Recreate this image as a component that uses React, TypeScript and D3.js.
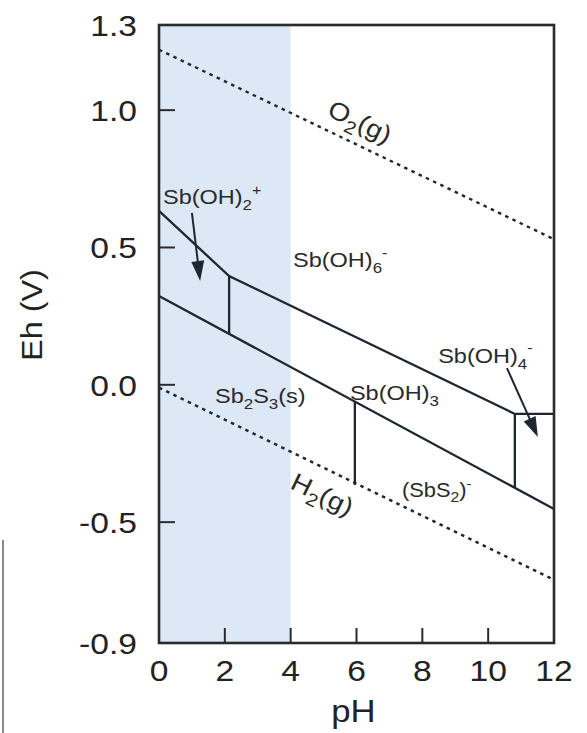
import React from 'react';
import * as d3 from 'd3';

const W = 587;
const H = 733;
const FONT = '"Liberation Sans", Arial, Helvetica, sans-serif';
const SX = 1.12;

// axes
const xDomain: [number, number] = [0, 12];
const yDomain: [number, number] = [-0.94, 1.31];
const xTickValues = [0, 2, 4, 6, 8, 10, 12];
const xTickLabels = ['0', '2', '4', '6', '8', '10', '12'];
const xInnerTicks = [2, 4, 6, 8, 10];
const yTickValues = [1.0, 0.5, 0.0, -0.5];
const yTickLabels = ['1.0', '0.5', '0.0', '-0.5'];
const yTopLabel = '1.3';
const yBottomLabel = '-0.9';
const shadedPH: [number, number] = [0, 4];

// water stability lines (pH, Eh)
const o2Line: [number, number][] = [[0, 1.22], [12, 0.53]];
const h2Line: [number, number][] = [[0, -0.01], [12, -0.71]];

// species boundaries (pH, Eh)
const upperBoundary: [number, number][] = [[0, 0.633], [2.13, 0.396], [10.81, -0.106], [12, -0.106]];
const lowerBoundary: [number, number][] = [[0, 0.323], [12, -0.452]];
const verticalPH = [2.13, 5.95, 10.81];
const verticalTop = [0.396, -0.061, -0.106];
const verticalBottom = [0.185, -0.365, -0.375];

// arrows
const arrowFrom: [number, number][] = [[1.0, 0.626], [10.57, 0.061]];
const arrowTo: [number, number][] = [[1.25, 0.378], [11.51, -0.19]];

type Part = { t: string; k: 'n' | 'sub' | 'sup' };
const labelParts: Part[][] = [
  [{ t: 'Sb(OH)', k: 'n' }, { t: '2', k: 'sub' }, { t: '+', k: 'sup' }],
  [{ t: 'Sb(OH)', k: 'n' }, { t: '6', k: 'sub' }, { t: '-', k: 'sup' }],
  [{ t: 'Sb', k: 'n' }, { t: '2', k: 'sub' }, { t: 'S', k: 'n' }, { t: '3', k: 'sub' }, { t: '(s)', k: 'n' }],
  [{ t: 'Sb(OH)', k: 'n' }, { t: '3', k: 'sub' }],
  [{ t: 'Sb(OH)', k: 'n' }, { t: '4', k: 'sub' }, { t: '-', k: 'sup' }],
  [{ t: '(SbS', k: 'n' }, { t: '2', k: 'sub' }, { t: ')', k: 'n' }, { t: '-', k: 'sup' }],
];
const labelPH = [0.12, 4.07, 1.70, 5.80, 8.48, 7.38];
const labelEh = [0.658, 0.429, -0.066, -0.055, 0.080, -0.408];
const labelSize = [21, 21, 21, 21, 21, 19.5];

const gasParts: Part[][] = [
  [{ t: 'O', k: 'n' }, { t: '2', k: 'sub' }, { t: '(g)', k: 'n' }],
  [{ t: 'H', k: 'n' }, { t: '2', k: 'sub' }, { t: '(g)', k: 'n' }],
];
const gasPH = [5.07, 3.95];
const gasEh = [0.982, -0.375];

const x = d3.scaleLinear().domain(xDomain).range([159, 554]);
const y = d3.scaleLinear().domain(yDomain).range([643, 25]);
const line = d3.line<[number, number]>().x(d => x(d[0])).y(d => y(d[1]));

const INK = '#1e2630';
const TXT = '#222';

function tf(px: number, py: number, rot?: number) {
  return `translate(${px},${py})${rot ? ` rotate(${rot})` : ''} scale(${SX},1)`;
}

function RichText({ parts, size, px, py, rotate }: { parts: Part[]; size: number; px: number; py: number; rotate?: number }) {
  let level = 0;
  const spans = parts.map((p, i) => {
    let target = 0;
    let fs = size;
    if (p.k === 'sub') { target = size * 0.28; fs = size * 0.72; }
    if (p.k === 'sup') { target = -size * 0.45; fs = size * 0.68; }
    const dy = target - level;
    level = target;
    return (
      <tspan key={i} dy={dy} fontSize={fs}>{p.t}</tspan>
    );
  });
  return (
    <text x={0} y={0} transform={tf(px, py, rotate)} fontFamily={FONT} fontSize={size} fill="#2a2a2a">
      {spans}
    </text>
  );
}

function Arrow({ from, to }: { from: [number, number]; to: [number, number] }) {
  const x1 = x(from[0]), y1 = y(from[1]);
  const x2 = x(to[0]), y2 = y(to[1]);
  const dx = x2 - x1, dy = y2 - y1;
  const len = Math.hypot(dx, dy);
  const ux = dx / len, uy = dy / len;
  const hl = 20, hw = 6.5;
  const bx = x2 - ux * hl, by = y2 - uy * hl;
  const pts = [
    [x2, y2],
    [bx - uy * hw, by + ux * hw],
    [bx + uy * hw, by - ux * hw],
  ].map(p => p.join(',')).join(' ');
  return (
    <g>
      <line x1={x1} y1={y1} x2={bx + ux * 2} y2={by + uy * 2} stroke={INK} strokeWidth={2} />
      <polygon points={pts} fill={INK} />
    </g>
  );
}

export default function App() {
  const [r0, r1] = x.range();
  const [b0, t0] = y.range();
  const angO2 = (Math.atan2(y(o2Line[1][1]) - y(o2Line[0][1]), x(o2Line[1][0]) - x(o2Line[0][0])) * 180) / Math.PI;
  const angH2 = (Math.atan2(y(h2Line[1][1]) - y(h2Line[0][1]), x(h2Line[1][0]) - x(h2Line[0][0])) * 180) / Math.PI;
  const gasAngles = [angO2, angH2];

  return (
    <svg width={W} height={H} style={{ position: 'absolute', left: 0, top: 0, background: '#fff' }}>
      <rect x={0} y={0} width={W} height={H} fill="#fff" />
      {/* stray panel edge at left */}
      <line x1={3} y1={540} x2={3} y2={H} stroke="#8a8a8a" strokeWidth={2} />

      {/* shaded acidic region */}
      <rect x={x(shadedPH[0])} y={t0} width={x(shadedPH[1]) - x(shadedPH[0])} height={b0 - t0} fill="#dce8f5" />

      {/* water lines */}
      <path d={line(o2Line) || ''} fill="none" stroke={INK} strokeWidth={2.4} strokeDasharray="3.5,4.5" />
      <path d={line(h2Line) || ''} fill="none" stroke={INK} strokeWidth={2.4} strokeDasharray="3.5,4.5" />

      {/* boundaries */}
      <path d={line(upperBoundary) || ''} fill="none" stroke={INK} strokeWidth={2.3} />
      <path d={line(lowerBoundary) || ''} fill="none" stroke={INK} strokeWidth={2.3} />
      {verticalPH.map((p, i) => (
        <line key={i} x1={x(p)} x2={x(p)} y1={y(verticalTop[i])} y2={y(verticalBottom[i])} stroke={INK} strokeWidth={2.3} />
      ))}

      {arrowFrom.map((f, i) => (
        <Arrow key={i} from={f} to={arrowTo[i]} />
      ))}

      {/* frame */}
      <rect x={r0} y={t0} width={r1 - r0} height={b0 - t0} fill="none" stroke="#2b2b2b" strokeWidth={2.6} />

      {/* ticks */}
      {yTickValues.map((v, i) => (
        <line key={'yt' + i} x1={r0} x2={r0 + 16} y1={y(v)} y2={y(v)} stroke="#2b2b2b" strokeWidth={2} />
      ))}
      {xInnerTicks.map((v, i) => (
        <line key={'xt' + i} x1={x(v)} x2={x(v)} y1={b0} y2={b0 - 15} stroke="#2b2b2b" strokeWidth={2} />
      ))}

      {/* tick labels */}
      {yTickValues.map((v, i) => (
        <text key={'yl' + i} transform={tf(137, y(v))} dy="0.36em" textAnchor="end" fontFamily={FONT} fontSize={30} fill={TXT}>{yTickLabels[i]}</text>
      ))}
      <text transform={tf(137, t0)} dy="0.36em" textAnchor="end" fontFamily={FONT} fontSize={30} fill={TXT}>{yTopLabel}</text>
      <text transform={tf(137, b0)} dy="0.36em" textAnchor="end" fontFamily={FONT} fontSize={30} fill={TXT}>{yBottomLabel}</text>
      {xTickValues.map((v, i) => (
        <text key={'xl' + i} transform={tf(x(v), 681)} textAnchor="middle" fontFamily={FONT} fontSize={30} fill={TXT}>{xTickLabels[i]}</text>
      ))}

      {/* axis titles */}
      <text transform={tf((r0 + r1) / 2 - 3, 722)} textAnchor="middle" fontFamily={FONT} fontSize={31} fill={TXT}>pH</text>
      <text transform={`translate(42,315) rotate(-90) scale(1.08,1)`} textAnchor="middle" fontFamily={FONT} fontSize={30} fill={TXT}>Eh (V)</text>

      {/* species labels */}
      {labelParts.map((parts, i) => (
        <RichText key={'lb' + i} parts={parts} size={labelSize[i]} px={x(labelPH[i])} py={y(labelEh[i])} />
      ))}
      {gasParts.map((parts, i) => (
        <RichText key={'gs' + i} parts={parts} size={25} px={x(gasPH[i])} py={y(gasEh[i])} rotate={gasAngles[i]} />
      ))}
    </svg>
  );
}
